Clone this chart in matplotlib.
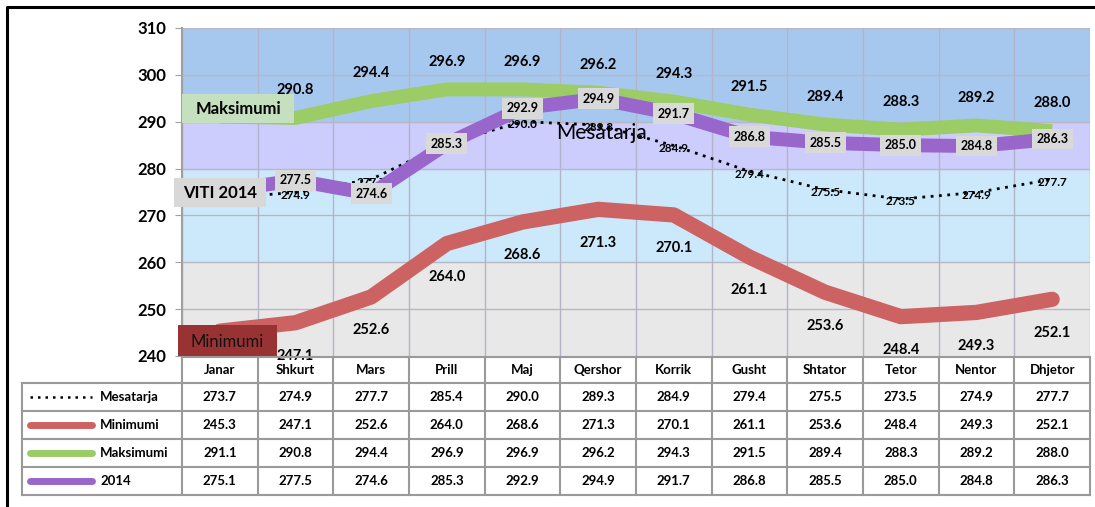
#!/usr/bin/env python
"""Monthly values: mean, minimum, maximum and 2014, with data table below."""

import matplotlib
matplotlib.use("Agg")
import matplotlib.pyplot as plt
import numpy as np

months = ["Janar", "Shkurt", "Mars", "Prill", "Maj", "Qershor", "Korrik",
          "Gusht", "Shtator", "Tetor", "Nentor", "Dhjetor"]
mesatarja = [273.7, 274.9, 277.7, 285.4, 290.0, 289.3, 284.9, 279.4, 275.5, 273.5, 274.9, 277.7]
minimumi = [245.3, 247.1, 252.6, 264.0, 268.6, 271.3, 270.1, 261.1, 253.6, 248.4, 249.3, 252.1]
maksimumi = [291.1, 290.8, 294.4, 296.9, 296.9, 296.2, 294.3, 291.5, 289.4, 288.3, 289.2, 288.0]
viti_2014 = [275.1, 277.5, 274.6, 285.3, 292.9, 294.9, 291.7, 286.8, 285.5, 285.0, 284.8, 286.3]
series_names = ["Mesatarja", "Minimumi", "Maksimumi", "2014"]

plt.rcParams["font.family"] = ["Lato", "DejaVu Sans"]

C_GREEN = "#9ccc66"
C_PURPLE = "#9966cc"
C_RED = "#cc6262"

W, H = 1095, 507
fig = plt.figure(figsize=(W / 100, H / 100), dpi=100)
fig.patch.set_facecolor("white")

# plot area in pixels: x 182..1090, y 28..356
px_l, px_r, px_t, px_b = 182, 1090, 28, 356
ax = fig.add_axes([px_l / W, 1 - px_b / H, (px_r - px_l) / W, (px_b - px_t) / H])
x = np.arange(len(months))
ax.set_xlim(-0.5, len(months) - 0.5)
ax.set_ylim(240, 310)

ax.axhspan(240, 260, color="#e8e8e8", zorder=0)
ax.axhspan(260, 280, color="#cce9fb", zorder=0)
ax.axhspan(280, 290, color="#ccccfd", zorder=0)
ax.axhspan(290, 310, color="#a7c8ee", zorder=0)
for yv in range(250, 311, 10):
    ax.axhline(yv, color="#b8b8c4", lw=1, zorder=1)
for xv in np.arange(-0.5, len(months)):
    ax.axvline(xv, color="#b4b4c8", lw=1, zorder=1)

ax.set_yticks(range(240, 311, 10))
ax.set_yticklabels([str(v) for v in range(240, 311, 10)], fontsize=12, fontweight="bold")
ax.tick_params(axis="y", length=5, color="#a0a0a0", pad=6)
ax.set_xticks([])
for side in ["top", "right", "bottom"]:
    ax.spines[side].set_visible(False)
ax.spines["left"].set_color("#a0a0a0")
ax.spines["left"].set_linewidth(1.5)

# lines
ax.plot(x, maksimumi, color=C_GREEN, lw=10, solid_capstyle="butt", solid_joinstyle="round", zorder=3)
ax.plot(x, minimumi, color=C_RED, lw=11, solid_capstyle="round", solid_joinstyle="round", zorder=3)
ax.plot(x, mesatarja, color="black", lw=2, ls=(0, (1, 2)), zorder=4)
ax.plot(x, viti_2014, color=C_PURPLE, lw=10, solid_capstyle="butt", solid_joinstyle="round", zorder=5)

# the first month's labels are replaced by the series name boxes
for i in range(1, len(months)):
    ax.annotate(f"{maksimumi[i]:.1f}", (x[i], maksimumi[i]), xytext=(0, 20), textcoords="offset points",
                ha="center", va="center", fontsize=10.5, fontweight="bold", zorder=6)
    ax.annotate(f"{minimumi[i]:.1f}", (x[i], minimumi[i]), xytext=(0, -24), textcoords="offset points",
                ha="center", va="center", fontsize=10.5, fontweight="bold", zorder=6,
                annotation_clip=False)
    ax.annotate(f"{mesatarja[i]:.1f}", (x[i], mesatarja[i]), xytext=(0, -2), textcoords="offset points",
                ha="center", va="center", fontsize=8.5, fontweight="bold", zorder=4)
    ax.annotate(f"{viti_2014[i]:.1f}", (x[i], viti_2014[i]), xytext=(0, 0), textcoords="offset points",
                ha="center", va="center", fontsize=9, fontweight="bold", zorder=7,
                bbox=dict(boxstyle="square,pad=0.35", fc="#d9d9d9", ec="none"))

# overlay in pixel coordinates for the named boxes, table and border
ov = fig.add_axes([0, 0, 1, 1], zorder=10)
ov.set_xlim(0, W)
ov.set_ylim(H, 0)
ov.axis("off")
ov.patch.set_alpha(0)

ov.add_patch(plt.Rectangle((182, 94), 112, 29, fc="#c5e0bf", ec="none"))
ov.text(238, 109, "Maksimumi", ha="center", va="center", fontsize=12, fontweight="bold")
ov.add_patch(plt.Rectangle((174, 178), 92, 29, fc="#d8d8d8", ec="none"))
ov.text(220, 193, "VITI 2014", ha="center", va="center", fontsize=12, fontweight="bold")
ov.add_patch(plt.Rectangle((178, 325), 99, 31, fc="#993333", ec="none"))
ov.text(227, 342, "Minimumi", ha="center", va="center", fontsize=12, color="#111111")
ov.text(556, 133, "Mesatarja", ha="left", va="center", fontsize=15)

# border of the frame
ov.plot([7, 7, W], [H, 7, 7], color="black", lw=2.2, solid_capstyle="butt")

# data table
col_w = (px_r - px_l) / len(months)
rows_y = [357, 383, 411, 439, 467, 495]
grid_c = "#9a9a9a"
ov.plot([px_l, px_r], [rows_y[0], rows_y[0]], color=grid_c, lw=1.5)
for k in range(len(months) + 1):
    xe = px_l + k * col_w
    ov.plot([xe, xe], [rows_y[0], rows_y[-1]], color=grid_c, lw=1.5)
for i, m in enumerate(months):
    ov.text(px_l + (i + 0.5) * col_w, (rows_y[0] + rows_y[1]) / 2, m, ha="center", va="center",
            fontsize=9.5, fontweight="bold")
for yv in rows_y[1:]:
    ov.plot([22, px_r], [yv, yv], color=grid_c, lw=1.5)
ov.plot([22, 22], [rows_y[1], rows_y[-1]], color=grid_c, lw=1.5)

table_vals = [mesatarja, minimumi, maksimumi, viti_2014]
swatches = [("black", 1.8, (0, (1, 2))), (C_RED, 5, "-"), (C_GREEN, 5, "-"), (C_PURPLE, 5, "-")]
for r, (name, vals) in enumerate(zip(series_names, table_vals)):
    yc = (rows_y[r + 1] + rows_y[r + 2]) / 2
    col, lw, ls = swatches[r]
    ov.plot([30, 92], [yc, yc], color=col, lw=lw, ls=ls, solid_capstyle="round")
    ov.text(100, yc, name, ha="left", va="center", fontsize=9.5, fontweight="bold")
    for i, v in enumerate(vals):
        ov.text(px_l + (i + 0.5) * col_w, yc, f"{v:.1f}", ha="center", va="center",
                fontsize=9.5, fontweight="bold")

fig.savefig("out.png", dpi=100)
